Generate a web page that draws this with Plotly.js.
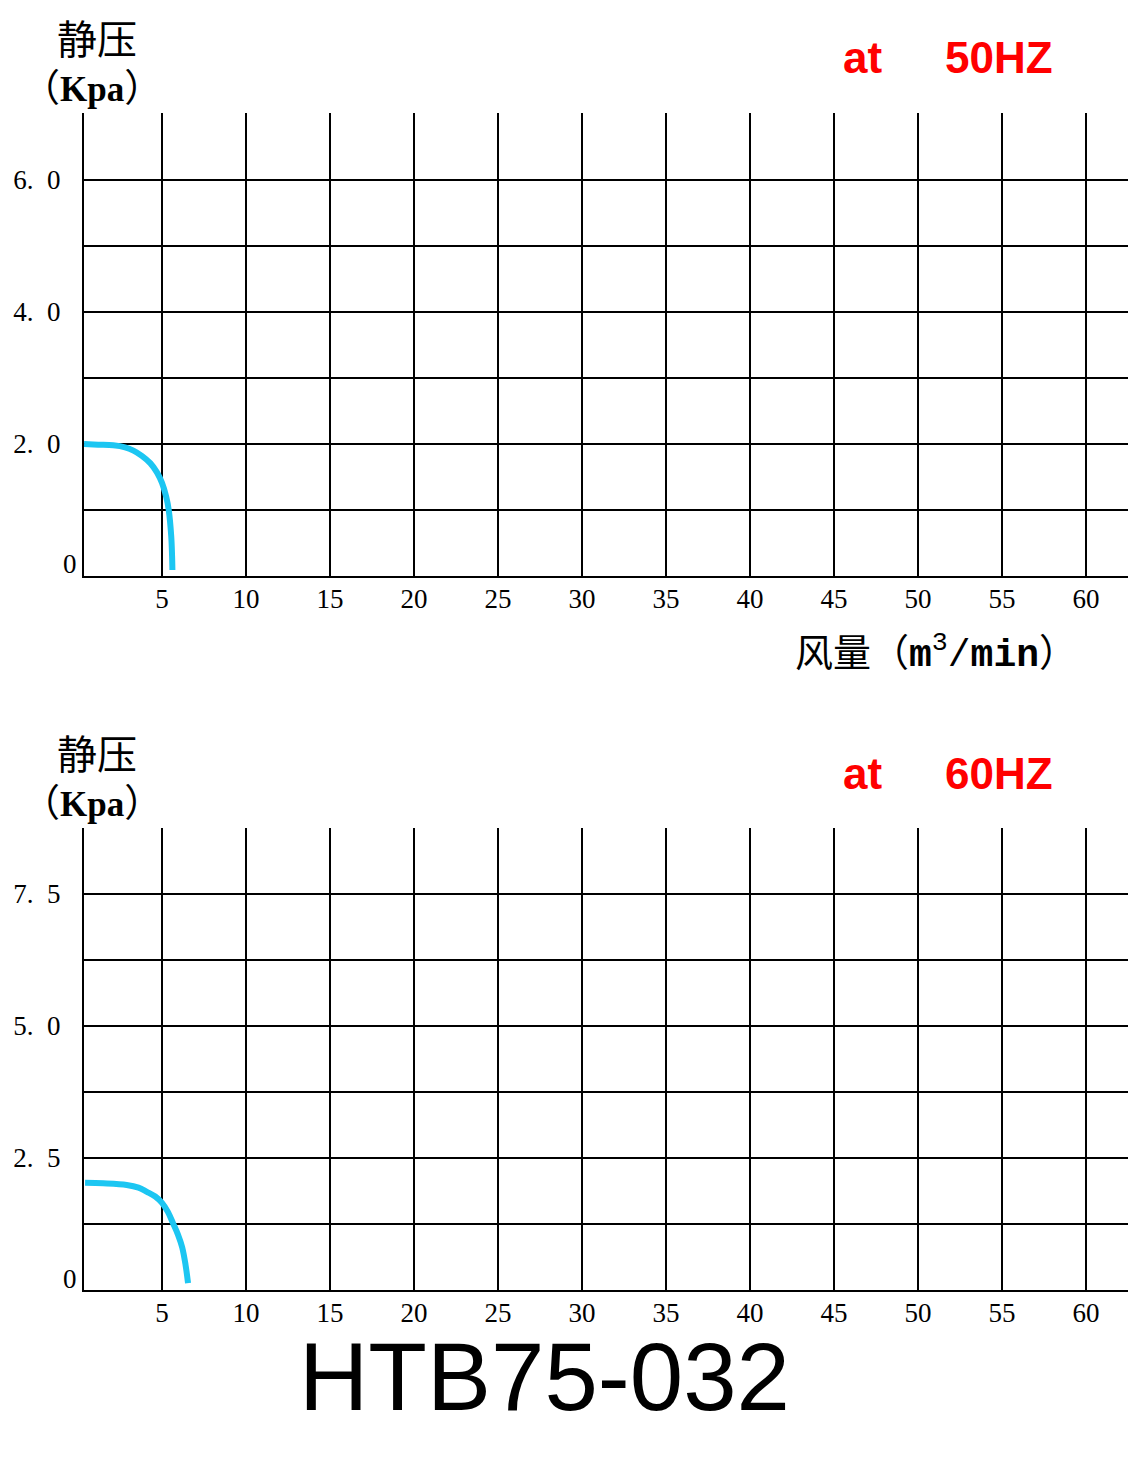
<!DOCTYPE html>
<html>
<head>
<meta charset="utf-8">
<script src="https://cdn.plot.ly/plotly-3.0.1.min.js"></script>
<style>html,body{margin:0;padding:0;background:#fff;}#chart{width:1144px;height:1469px;}</style>
</head>
<body>
<div id="chart"></div>
<script>
// ---- data ----
const xTickVals = [5, 10, 15, 20, 25, 30, 35, 40, 45, 50, 55, 60];
const xTickText = ["5", "10", "15", "20", "25", "30", "35", "40", "45", "50", "55", "60"];

const yTickVals50 = [0, 1, 2, 3, 4, 5, 6];
const yTickText50 = ["", "", "2.\u20020", "", "4.\u20020", "", "6.\u20020"];
const yTickVals60 = [0, 1.25, 2.5, 3.75, 5, 6.25, 7.5];
const yTickText60 = ["", "", "2.\u20025", "", "5.\u20020", "", "7.\u20025"];
const yZeroLabel = "0";

const flow50 = [0.36, 1.2, 2.1, 2.8, 3.3, 3.8, 4.3, 4.7, 5.0, 5.25, 5.4, 5.55, 5.6, 5.62];
const pres50 = [2.0, 1.99, 1.98, 1.95, 1.9, 1.82, 1.71, 1.57, 1.41, 1.2, 1.0, 0.6, 0.3, 0.09];

const flow60 = [0.42, 1.5, 2.9, 3.6, 4.1, 4.6, 5.0, 5.35, 5.65, 5.95, 6.2, 6.4, 6.55];
const pres60 = [2.03, 2.02, 1.99, 1.94, 1.86, 1.77, 1.65, 1.48, 1.27, 1.05, 0.81, 0.48, 0.13];

// ---- layout helpers ----
const W = 1144, H = 1469;
const px = v => v / W;
const py = v => 1 - v / H;

const serif = "Liberation Serif, DejaVu Serif, serif";
const mono = "Liberation Mono, DejaVu Sans Mono, monospace";
const cjk = "Noto Sans CJK SC, sans-serif";

function xAxis(anchor) {
  return {
    anchor: anchor,
    domain: [px(84), px(1128)],
    range: [0.357, 62.5],
    tickmode: "array",
    tickvals: xTickVals,
    ticktext: xTickText,
    showgrid: true, gridcolor: "#000", gridwidth: 2,
    showline: true, linecolor: "#000", linewidth: 2,
    zeroline: false,
    ticks: "", ticklabelstandoff: -2,
    tickfont: {family: serif, size: 27, color: "#000"},
    fixedrange: true
  };
}
function yAxis(anchor, topPx, botPx, top, vals, text) {
  return {
    anchor: anchor,
    domain: [py(botPx), py(topPx)],
    range: [0, top],
    tickmode: "array",
    tickvals: vals,
    ticktext: text,
    showgrid: true, gridcolor: "#000", gridwidth: 2,
    showline: true, linecolor: "#000", linewidth: 2,
    zeroline: false,
    ticks: "", ticklabelstandoff: 16,
    tickfont: {family: serif, size: 27, color: "#000"},
    fixedrange: true
  };
}

const curveColor = "#1cc6f2";
const traces = [
  {x: flow50, y: pres50, xaxis: "x", yaxis: "y", mode: "lines",
   line: {color: curveColor, width: 6, shape: "spline"}, showlegend: false, hoverinfo: "skip"},
  {x: flow60, y: pres60, xaxis: "x2", yaxis: "y2", mode: "lines",
   line: {color: curveColor, width: 6, shape: "spline"}, showlegend: false, hoverinfo: "skip"}
];

function ann(text, xPx, yPx, font, xanchor) {
  return {text: text, xref: "paper", yref: "paper", x: px(xPx), y: py(yPx),
          xanchor: xanchor || "left", yanchor: "middle", showarrow: false, font: font};
}
const titleFont = {family: cjk, size: 40, color: "#000"};
const kpaFont = {family: serif + ", " + cjk, size: 38, color: "#000"};
const unitFont = {family: mono + ", " + cjk, size: 38, color: "#000"};
const redFont = {family: "Liberation Sans, Arial, sans-serif", size: 44, color: "#ff0000"};
const tickFont = {family: serif, size: 27, color: "#000"};

const annotations = [];
[0, 715].forEach((off, i) => {
  annotations.push(ann("静压", 55, 37 + off, titleFont));
  annotations.push(ann("（<b><span style=\"font-size:35px\">Kpa</span></b>）", 20, 88 + off, kpaFont));
  annotations.push(ann("<b>at</b>", 841, 58 + off, redFont));
  annotations.push(ann(i === 0 ? "<b>50HZ</b>" : "<b>60HZ</b>", 943, 58 + off, redFont));
  annotations.push(ann(yZeroLabel, 70, 564 + off, tickFont, "center"));
});
annotations.push(ann("风量（<b>m</b><sup>3</sup>/<b>min</b>）", 793, 652, unitFont));
annotations.push(ann("HTB75-032", 544, 1376, {family: "Liberation Sans, Arial, sans-serif", size: 96, color: "#000"}, "center"));

const layout = {
  width: W, height: H,
  margin: {l: 0, r: 0, t: 0, b: 0},
  paper_bgcolor: "#fff", plot_bgcolor: "#fff",
  showlegend: false,
  xaxis: xAxis("y"),
  yaxis: yAxis("x", 113, 576, 7.015, yTickVals50, yTickText50),
  xaxis2: xAxis("y2"),
  yaxis2: yAxis("x2", 828, 1290, 8.75, yTickVals60, yTickText60),
  annotations: annotations
};

Plotly.newPlot("chart", traces, layout, {staticPlot: true, displayModeBar: false});
</script>
</body>
</html>
